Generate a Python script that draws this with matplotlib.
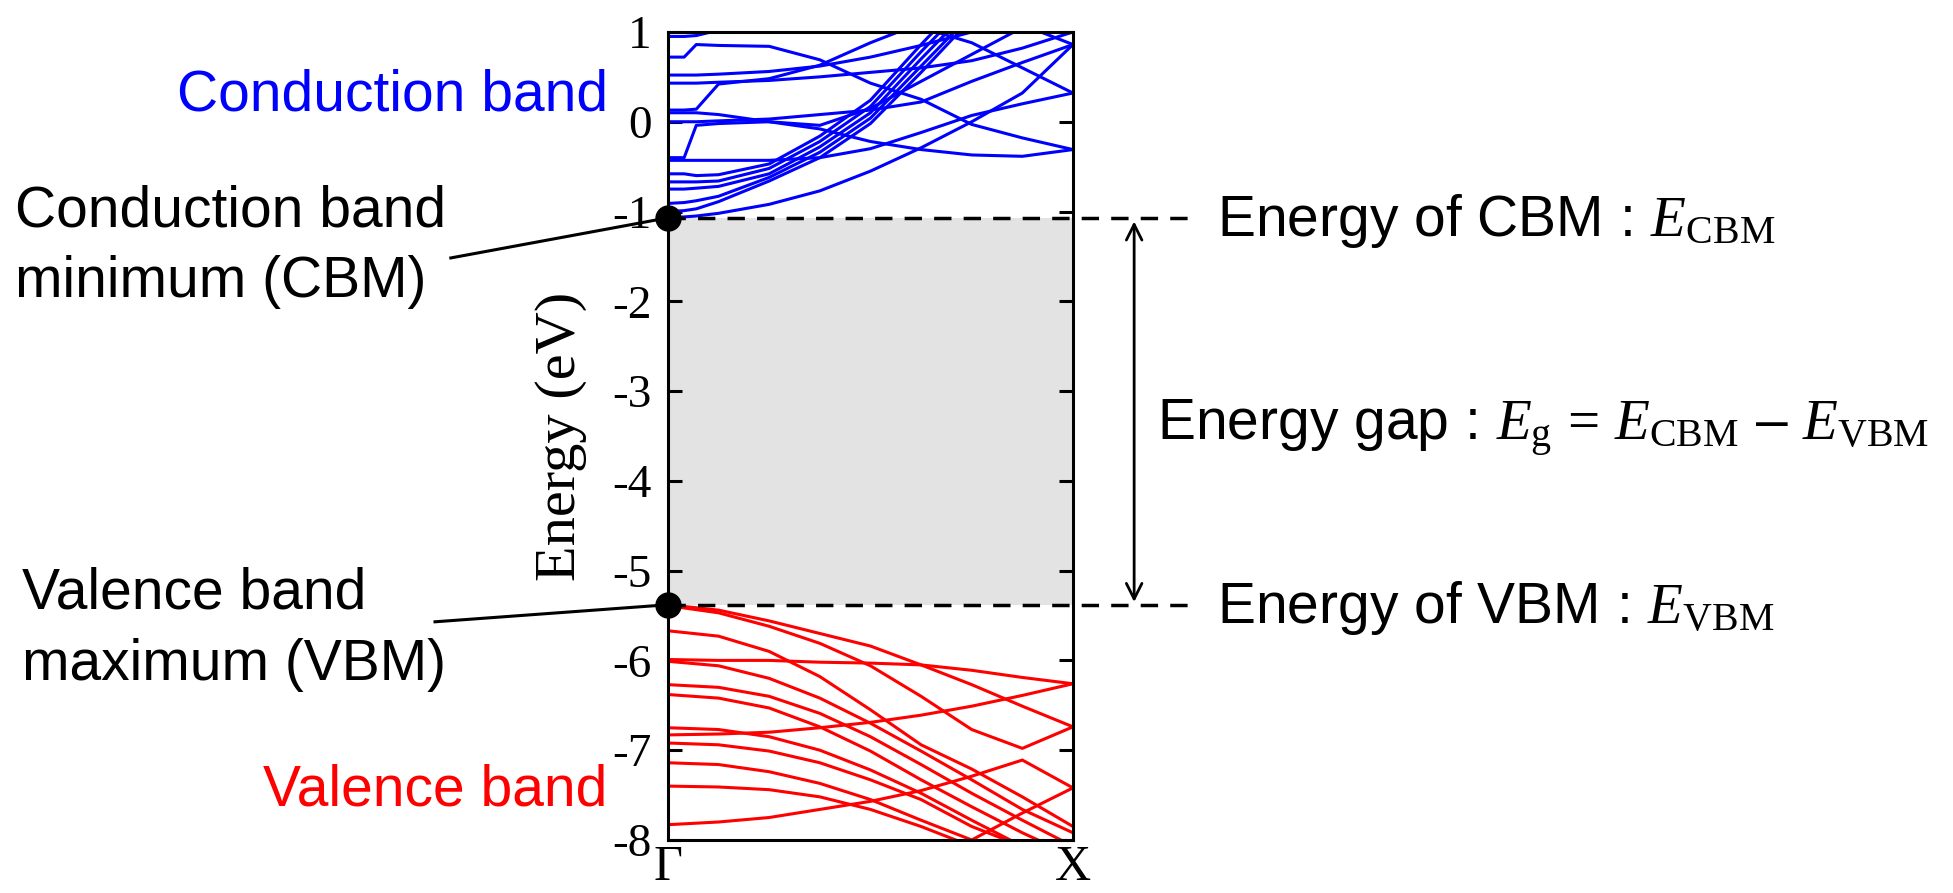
import matplotlib
matplotlib.use('Agg')
import matplotlib.pyplot as plt
import numpy as np

plt.rcParams['font.family'] = ['Liberation Sans', 'DejaVu Sans']
plt.rcParams['mathtext.fontset'] = 'custom'
plt.rcParams['mathtext.rm'] = 'Liberation Serif'
plt.rcParams['mathtext.it'] = 'Liberation Serif:italic'
plt.rcParams['axes.unicode_minus'] = False

# k path from Gamma (0) to X (1)
k_cb = [0, 0.04, 0.07, 0.125, 0.25, 0.375, 0.5, 0.625, 0.75, 0.875, 1.0]
k_vb = [0, 0.125, 0.25, 0.375, 0.5, 0.625, 0.75, 0.875, 1.0]

e_cbm = -1.07
e_vbm = -5.38

# conduction bands (eV)
cb1 = [-1.07, -1.06, -1.05, -1.02, -0.92, -0.77, -0.55, -0.29, 0.00, 0.32, 0.86]
cb2 = [-1.00, -0.99, -0.97, -0.89, -0.66, -0.40, -0.02, 0.55, 1.15, 1.80, 2.40]
cb3 = [-0.91, -0.90, -0.88, -0.83, -0.62, -0.34, 0.04, 0.62, 1.20, 1.80, 2.40]
cb4 = [-0.75, -0.75, -0.74, -0.72, -0.58, -0.28, 0.10, 0.70, 1.28, 1.90, 2.50]
cb5 = [-0.67, -0.67, -0.67, -0.66, -0.52, -0.22, 0.17, 0.78, 1.36, 1.90, 2.50]
cb6 = [-0.58, -0.58, -0.60, -0.59, -0.47, -0.16, 0.24, 0.86, 1.45, 2.00, 2.50]
cb7 = [-0.43, -0.43, -0.43, -0.43, -0.43, -0.40, -0.30, -0.12, 0.07, 0.20, 0.32]
cb8 = [-0.40, -0.40, -0.04, -0.02, 0.00, -0.04, 0.15, 0.45, 0.75, 1.05, 1.35]
cb9 = [0.10, 0.10, 0.10, 0.08, 0.00, -0.08, -0.22, -0.31, -0.37, -0.385, -0.31]
cb10 = [0.00, 0.00, 0.00, 0.01, 0.03, 0.08, 0.13, 0.22, 0.45, 0.66, 0.86]
cb11 = [0.72, 0.72, 0.86, 0.85, 0.84, 0.69, 0.43, 0.25, -0.03, -0.18, -0.31]
cb12 = [0.13, 0.13, 0.14, 0.42, 0.48, 0.63, 0.88, 1.10, 1.30, 1.50, 1.70]
cb13 = [0.52, 0.52, 0.52, 0.53, 0.56, 0.62, 0.72, 0.85, 1.00, 1.15, 1.30]
cb14 = [0.43, 0.43, 0.43, 0.44, 0.46, 0.50, 0.55, 0.60, 0.68, 0.82, 1.00]
cb15 = [1.30, 1.30, 1.30, 1.30, 1.25, 1.20, 1.15, 1.05, 0.88, 0.60, 0.32]
cb16 = [1.60, 1.60, 1.60, 1.55, 1.50, 1.45, 1.40, 1.30, 1.20, 1.08, 0.86]
cb17 = [0.95, 0.95, 0.96, 1.02, 1.10, 1.20, 1.30, 1.40, 1.50, 1.60, 1.70]
conduction = [cb1, cb2, cb3, cb4, cb5, cb6, cb7, cb8, cb9, cb10, cb11, cb12,
              cb13, cb14, cb15, cb16, cb17]

# valence bands (eV)
vb1 = [-5.38, -5.44, -5.56, -5.70, -5.84, -6.05, -6.27, -6.51, -6.74]
vb2 = [-5.39, -5.47, -5.62, -5.81, -6.06, -6.40, -6.77, -6.98, -6.74]
vb3 = [-5.67, -5.73, -5.90, -6.18, -6.55, -6.94, -7.21, -7.52, -7.85]
vb4 = [-5.99, -6.00, -6.00, -6.02, -6.03, -6.05, -6.11, -6.19, -6.26]
vb5 = [-6.01, -6.06, -6.20, -6.42, -6.70, -7.01, -7.33, -7.66, -7.92]
vb6 = [-6.27, -6.30, -6.40, -6.59, -6.85, -7.16, -7.48, -7.78, -8.07]
vb7 = [-6.38, -6.42, -6.53, -6.74, -7.01, -7.33, -7.63, -7.92, -8.18]
vb8 = [-6.75, -6.77, -6.85, -7.00, -7.22, -7.48, -7.78, -8.07, -8.29]
vb9 = [-6.83, -6.82, -6.80, -6.75, -6.69, -6.61, -6.51, -6.39, -6.26]
vb10 = [-6.92, -6.94, -7.01, -7.14, -7.33, -7.55, -7.85, -8.07, -8.26]
vb11 = [-7.14, -7.16, -7.24, -7.37, -7.55, -7.78, -8.00, -7.70, -7.42]
vb12 = [-7.40, -7.41, -7.44, -7.52, -7.66, -7.85, -8.07, -8.29, -8.44]
vb13 = [-7.83, -7.80, -7.75, -7.66, -7.57, -7.45, -7.29, -7.11, -7.42]
valence = [vb1, vb2, vb3, vb4, vb5, vb6, vb7, vb8, vb9, vb10, vb11, vb12, vb13]

yticks = [1, 0, -1, -2, -3, -4, -5, -6, -7, -8]
kpoints = [0, 1]
klabels = ['Γ', 'X']

fig = plt.figure(figsize=(19.53, 8.93), dpi=100)
ax = fig.add_axes([0.342, 0.0594, 0.2074, 0.9048])

ax.axhspan(e_vbm, e_cbm, color='#e3e3e3', lw=0, zorder=0)
for band in conduction:
    ax.plot(k_cb, band, color='#0000ff', lw=2.2, zorder=2)
for band in valence:
    ax.plot(k_vb, band, color='#ff0000', lw=2.2, zorder=2)

ax.set_xlim(0, 1)
ax.set_ylim(-8, 1)
ax.set_yticks(yticks)
ax.set_xticks(kpoints)
ax.set_xticklabels(klabels)
for lab in ax.get_yticklabels() + ax.get_xticklabels():
    lab.set_family('Liberation Serif')
ax.tick_params(axis='y', direction='in', length=10, width=2.2, right=True, labelsize=34, pad=12)
ax.tick_params(axis='x', length=0, labelsize=36, pad=3)
for s in ax.spines.values():
    s.set_linewidth(2.2)
ax.set_ylabel('Energy (eV)', family='Liberation Serif', fontsize=42)
ax.yaxis.set_label_coords(-0.20, 0.5)

# dashed levels, dots and arrow
for e in [e_cbm, e_vbm]:
    ax.plot([0, 1.309], [e, e], color='k', lw=2.5, dashes=(5, 3.5), clip_on=False, zorder=3)
    ax.plot(0, e, 'o', color='k', ms=18, clip_on=False, zorder=5)
ax.annotate('', xy=(1.151, e_vbm + 0.03), xytext=(1.151, e_cbm - 0.04),
            arrowprops=dict(arrowstyle='<->', lw=2, mutation_scale=28, shrinkA=0, shrinkB=0),
            annotation_clip=False)

ax.plot([-0.536, 0], [-1.517, e_cbm], color='k', lw=2.2, clip_on=False)
ax.plot([-0.575, 0], [-5.570, e_vbm], color='k', lw=2.2, clip_on=False)

fs = 41
ax.text(-1.212, 0.12, 'Conduction band', color='#0000ff', fontsize=fs, va='baseline')
ax.text(-1.0, -7.619, 'Valence band', color='#ff0000', fontsize=fs, va='baseline')
ax.text(-1.612, -1.171, 'Conduction band', fontsize=fs, va='baseline')
ax.text(-1.612, -1.951, 'minimum (CBM)', fontsize=fs, va='baseline')
ax.text(-1.595, -5.425, 'Valence band', fontsize=fs, va='baseline')
ax.text(-1.595, -6.216, 'maximum (VBM)', fontsize=fs, va='baseline')

ax.text(1.356, e_cbm - 0.2, r'Energy of CBM : $E_{\mathrm{CBM}}$', fontsize=fs, va='baseline')
ax.text(1.356, e_vbm - 0.2, r'Energy of VBM : $E_{\mathrm{VBM}}$', fontsize=fs, va='baseline')
ax.text(1.207, -3.543, r'Energy gap : $E_{\mathrm{g}}\,=\,E_{\mathrm{CBM}}$ – $E_{\mathrm{VBM}}$',
        fontsize=fs, va='baseline')

fig.savefig('out.png', dpi=100)
